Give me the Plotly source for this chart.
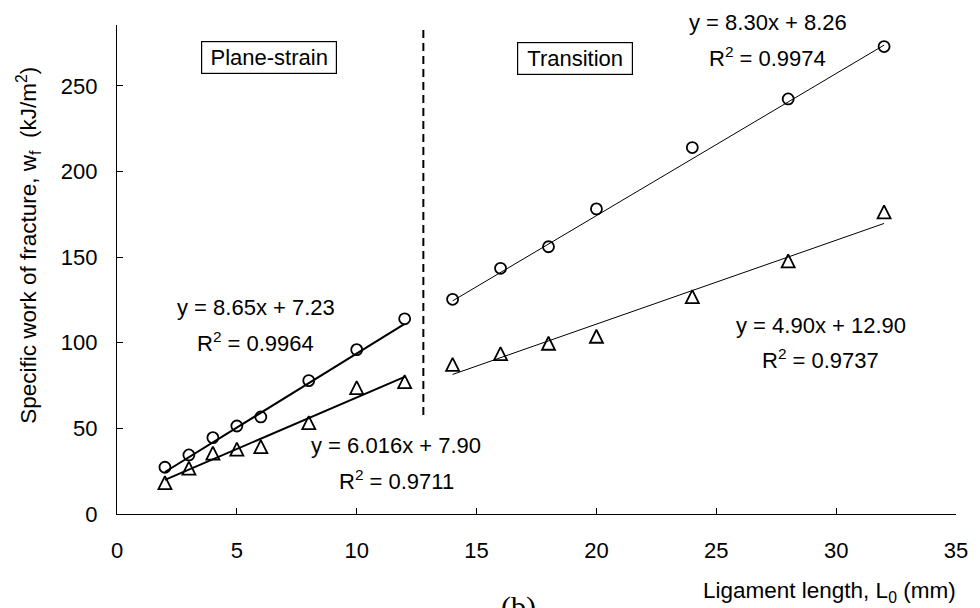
import plotly.graph_objects as go

# ---- data ----
x_plane = [2, 3, 4, 5, 6, 8, 10, 12]
wf_circle_plane = [27.3, 34.5, 44.6, 51.4, 56.7, 77.9, 96.0, 114.0]
wf_tri_plane = [18.9, 27.4, 36.1, 38.5, 39.9, 53.9, 74.4, 77.9]

x_trans = [14, 16, 18, 20, 24, 28, 32]
wf_circle_trans = [125.4, 143.5, 156.1, 178.2, 214.0, 242.4, 273.0]
wf_tri_trans = [88.0, 94.2, 100.3, 104.4, 127.5, 148.4, 177.0]

fit_slopes = [8.65, 6.016, 8.30, 4.90]
fit_intercepts = [7.23, 7.90, 8.26, 12.90]
fit_labels = ["y = 8.65x + 7.23", "y = 6.016x + 7.90", "y = 8.30x + 8.26", "y = 4.90x + 12.90"]
r2_labels = ["R<sup>2</sup> = 0.9964", "R<sup>2</sup> = 0.9711", "R<sup>2</sup> = 0.9974", "R<sup>2</sup> = 0.9737"]

divider_x = 12.78
divider_y = [57.8, 285.6]

x_ticks = [0, 5, 10, 15, 20, 25, 30, 35]
y_ticks = [0, 50, 100, 150, 200, 250]

FONT = "Liberation Sans, Arial, sans-serif"
FS = 22

fig = go.Figure()

def fit_line(xs, k):
    xe = [xs[0], xs[-1]]
    return xe, [fit_slopes[k] * v + fit_intercepts[k] for v in xe]

# fit lines
for xs, k, w in [(x_plane, 0, 2), (x_plane, 1, 2), (x_trans, 2, 1), (x_trans, 3, 1)]:
    lx, ly = fit_line(xs, k)
    fig.add_trace(go.Scatter(x=lx, y=ly, mode="lines",
                             line=dict(color="black", width=w), showlegend=False,
                             hoverinfo="skip"))

circle_marker = dict(symbol="circle-open", size=11, color="black", line=dict(width=1.8, color="black"))
tri_marker = dict(symbol="arrow-down-open", angle=180, size=13, standoff=5.5, color="black",
                  line=dict(width=1.8, color="black"))

for xs, ys in [(x_plane, wf_circle_plane), (x_trans, wf_circle_trans)]:
    fig.add_trace(go.Scatter(x=xs, y=ys, mode="markers", marker=circle_marker, showlegend=False))
for xs, ys in [(x_plane, wf_tri_plane), (x_trans, wf_tri_trans)]:
    fig.add_trace(go.Scatter(x=xs, y=ys, mode="markers", marker=tri_marker, showlegend=False))

# divider
fig.add_shape(type="line", x0=divider_x, x1=divider_x, y0=divider_y[0], y1=divider_y[1],
              xref="x", yref="y", line=dict(color="black", width=2, dash="8px,5px"))

ann = []
tf = dict(family=FONT, size=FS, color="black")
# region boxes
ann.append(dict(x=6.33, y=266.4, text="Plane-strain", showarrow=False, font=tf,
                bordercolor="black", borderwidth=1.2, borderpad=0, width=134, height=31,
                bgcolor="white"))
ann.append(dict(x=19.1, y=266.2, text="Transition", showarrow=False, font=tf,
                bordercolor="black", borderwidth=1.2, borderpad=0, width=114, height=31,
                bgcolor="white"))
# equations
eq_pos = [(5.79, 120.9, 100.6), (11.64, 39.9, 19.9), (27.14, None, 267.2), (29.35, 110.0, 90.5)]
for k, (ex, ey1, ey2) in enumerate(eq_pos):
    if ey1 is None:
        ann.append(dict(x=ex, xref="x", yref="paper", y=1.006, text=fit_labels[k],
                        showarrow=False, font=tf, yanchor="middle"))
    else:
        ann.append(dict(x=ex, y=ey1, text=fit_labels[k], showarrow=False, font=tf))
    ann.append(dict(x=ex, y=ey2, text=r2_labels[k], showarrow=False, font=tf))

# axis titles
ann.append(dict(xref="paper", yref="paper", x=-0.1064, y=0.55, textangle=-90,
                xanchor="center", yanchor="middle",
                text="Specific work of fracture, w<sub>f</sub>  (kJ/m<sup>2</sup>)",
                showarrow=False, font=dict(family=FONT, size=22.5, color="black")))
ann.append(dict(xref="paper", yref="paper", x=0.849, y=-0.1595,
                xanchor="center", yanchor="middle",
                text="Ligament length, L<sub>0</sub> (mm)",
                showarrow=False, font=dict(family=FONT, size=22.5, color="black")))
ann.append(dict(xref="paper", yref="paper", x=0.478, y=-0.1513, yanchor="top",
                xanchor="center", text="(b)", showarrow=False,
                font=dict(family="Liberation Serif, Times New Roman, serif", size=30, color="black")))

fig.update_layout(
    width=980, height=608,
    margin=dict(l=117, r=17, t=25, b=94),
    paper_bgcolor="white", plot_bgcolor="white",
    annotations=ann,
    showlegend=False,
    font=dict(family=FONT, size=FS, color="black"),
)
fig.update_xaxes(range=[0, 35], tickvals=x_ticks, ticktext=[str(v) for v in x_ticks],
                 ticks="inside", ticklen=6, tickwidth=1, tickcolor="black",
                 showline=True, linecolor="black", linewidth=1.2, showgrid=False, zeroline=False,
                 ticklabelstandoff=16, tickfont=dict(family=FONT, size=FS, color="black"))
fig.update_yaxes(range=[0, 285.6], tickvals=y_ticks, ticktext=[str(v) for v in y_ticks],
                 ticks="inside", ticklen=6, tickwidth=1, tickcolor="black",
                 showline=True, linecolor="black", linewidth=1.2, showgrid=False, zeroline=False,
                 ticklabelstandoff=14, tickfont=dict(family=FONT, size=FS, color="black"))

fig.write_html("out.html", config={"displayModeBar": False},
               post_script="document.body.style.margin='0';document.body.style.overflow='hidden';")
